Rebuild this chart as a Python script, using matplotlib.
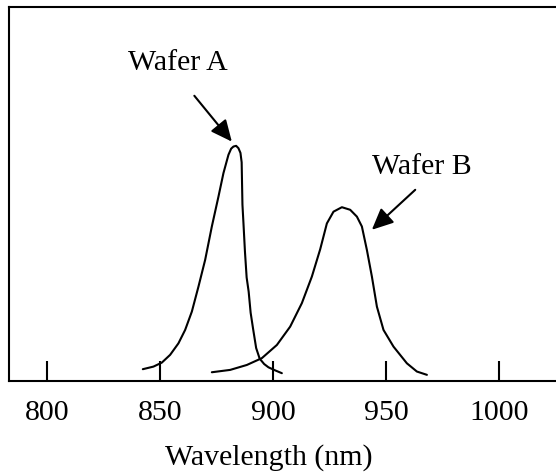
import numpy as np
import matplotlib.pyplot as plt

plt.rcParams["font.family"] = ["Liberation Serif", "DejaVu Serif"]

# Wafer A spectrum (intensity normalised to peak A)
wl_a = [842.29, 846.99, 850.71, 854.38, 858.06, 861.03, 864.00, 866.92,
        869.89, 872.85, 875.78, 877.99, 880.21, 881.40, 882.42, 883.61,
        884.63, 885.52, 886.05, 886.40, 886.85, 887.51, 888.26, 889.15,
        890.03, 891.14, 892.47, 894.02, 896.01, 897.92, 900.89, 903.85]
int_a = [0.050, 0.061, 0.078, 0.111, 0.160, 0.217, 0.295, 0.401,
         0.515, 0.657, 0.784, 0.884, 0.962, 0.988, 0.997, 1.000,
         0.990, 0.970, 0.930, 0.750, 0.671, 0.550, 0.440, 0.380,
         0.290, 0.220, 0.140, 0.095, 0.072, 0.058, 0.045, 0.033]

# Wafer B spectrum
wl_b = [872.85, 880.96, 888.35, 895.00, 901.64, 907.53, 912.71, 917.14,
        920.82, 923.78, 926.71, 930.43, 934.10, 937.07, 939.28, 941.50,
        943.71, 945.93, 948.85, 953.28, 959.21, 963.64, 968.07]
int_b = [0.037, 0.047, 0.068, 0.097, 0.153, 0.231, 0.331, 0.444,
         0.560, 0.670, 0.720, 0.739, 0.728, 0.699, 0.657, 0.557,
         0.444, 0.316, 0.217, 0.146, 0.075, 0.040, 0.026]

ticks = [800, 850, 900, 950, 1000]
tick_labels = ["800", "850", "900", "950", "1000"]

fig = plt.figure(figsize=(5.56, 4.75), dpi=100)
ax = fig.add_axes([0.016, 0.198, 0.99, 0.787])

for wl, inten in [(wl_a, int_a), (wl_b, int_b)]:
    ax.plot(wl, inten, color="black", lw=1.5,
            solid_joinstyle="round", solid_capstyle="round")

ax.set_xlim(783.0, 1026.7)
ax.set_ylim(0, 1.59)

ax.set_xticks(ticks)
ax.set_xticklabels(tick_labels)
ax.set_yticks([])
ax.tick_params(axis="x", direction="in", length=14.5, width=1.5,
               pad=13.5, labelsize=21.5)
for s in ax.spines.values():
    s.set_linewidth(1.5)

ax.set_xlabel("Wavelength (nm)", fontsize=21.5)
ax.xaxis.label.set_va("baseline")
ax.xaxis.set_label_coords(0.473, -0.225)

arrow = dict(arrowstyle="-|>,head_length=0.65,head_width=0.3",
             color="black", lw=1.5, mutation_scale=20, shrinkA=0, shrinkB=0)
ax.text(857.9, 1.323, "Wafer A", ha="center", va="baseline", fontsize=21.5)
ax.annotate("", xy=(881.7, 1.018), xytext=(865.1, 1.213), arrowprops=arrow)
ax.text(965.9, 0.880, "Wafer B", ha="center", va="baseline", fontsize=21.5)
ax.annotate("", xy=(943.7, 0.643), xytext=(962.9, 0.813), arrowprops=arrow)

fig.savefig("out.png", dpi=100)
